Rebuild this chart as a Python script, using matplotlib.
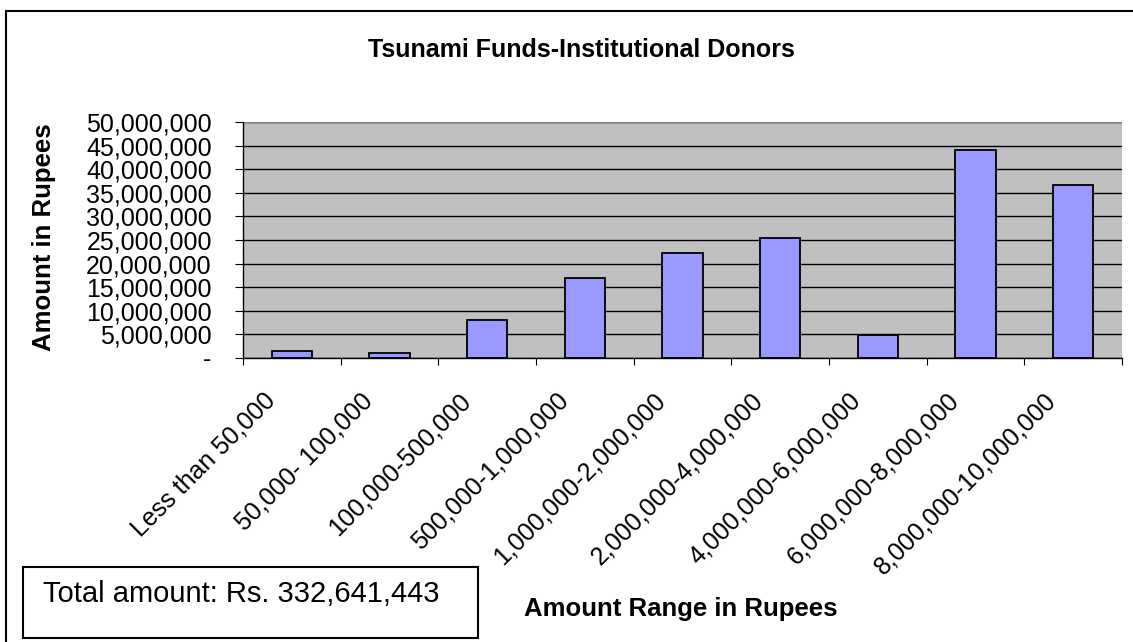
import matplotlib
matplotlib.use('Agg')
import matplotlib.pyplot as plt
from matplotlib.patches import Rectangle
from matplotlib.ticker import FuncFormatter

plt.rcParams['font.family'] = ['Liberation Sans', 'DejaVu Sans']

# Data
categories = ['Less than 50,000', '50,000- 100,000', '100,000-500,000',
              '500,000-1,000,000', '1,000,000-2,000,000', '2,000,000-4,000,000',
              '4,000,000-6,000,000', '6,000,000-8,000,000', '8,000,000-10,000,000']
amounts = [1400000, 1050000, 8000000, 16950000, 22300000, 25500000,
           4900000, 44100000, 36600000]
y_ticks = list(range(0, 50000001, 5000000))
total_text = 'Total amount: Rs. 332,641,443'

W, H = 1133, 642
fig = plt.figure(figsize=(W / 100, H / 100), dpi=100)
ax = fig.add_axes([243 / W, 1 - 358 / H, (1122 - 243) / W, (358 - 122) / H])

x = range(len(categories))
ax.bar(x, amounts, width=0.41, color='#9999ff', edgecolor='black', linewidth=1.3, zorder=3)

ax.set_facecolor('#c0c0c0')
ax.set_xlim(-0.5, len(categories) - 0.5)
ax.set_ylim(0, 50000000)
ax.set_yticks(y_ticks)
ax.yaxis.set_major_formatter(FuncFormatter(lambda v, p: '-' if v == 0 else f'{int(v):,}'))
ax.yaxis.grid(True, color='black', linewidth=1, zorder=1)

# ticks between categories like Excel
ax.set_xticks([i - 0.5 for i in range(len(categories) + 1)])
ax.set_xticklabels([''] * (len(categories) + 1))
ax.tick_params(axis='x', length=5, direction='out')
ax.tick_params(axis='y', length=6, direction='out', labelsize=18, pad=16.5)

# rotated category labels, ends sitting a little left of each bar centre
for i, cat in enumerate(categories):
    ax.annotate(cat, xy=(i, 0), xycoords=('data', 'axes fraction'),
                xytext=(-21, -22), textcoords='offset points',
                rotation=45, rotation_mode='anchor', ha='right', va='top',
                fontsize=18, annotation_clip=False)

for s in ['top', 'right']:
    ax.spines[s].set_visible(False)
ax.spines['left'].set_linewidth(1)
ax.spines['bottom'].set_linewidth(1)
ax.axhline(50000000, color='#808080', linewidth=1.5, zorder=2)

fig.text(581 / W, 1 - 50 / H, 'Tsunami Funds-Institutional Donors',
         ha='center', va='center', fontsize=18, fontweight='bold')
fig.text(44 / W, 1 - 237 / H, 'Amount in Rupees', ha='center', va='center',
         rotation=90, fontsize=18.5, fontweight='bold')
fig.text(681 / W, 1 - 609 / H, 'Amount Range in Rupees', ha='center', va='center',
         fontsize=18.5, fontweight='bold')

# outer chart border (cut off at right and bottom)
fig.patches.append(Rectangle((6 / W, -0.1), 1.2, 1 - 11 / H + 0.1,
                             transform=fig.transFigure, fill=False,
                             edgecolor='black', linewidth=1.5))

# total amount box
fig.patches.append(Rectangle((23 / W, 1 - 638 / H), (478 - 23) / W, (638 - 567) / H,
                             transform=fig.transFigure, fill=False,
                             edgecolor='black', linewidth=1.5))
fig.text(43 / W, 1 - 594 / H, total_text, ha='left', va='center', fontsize=21)

fig.savefig('out.png', dpi=100)
